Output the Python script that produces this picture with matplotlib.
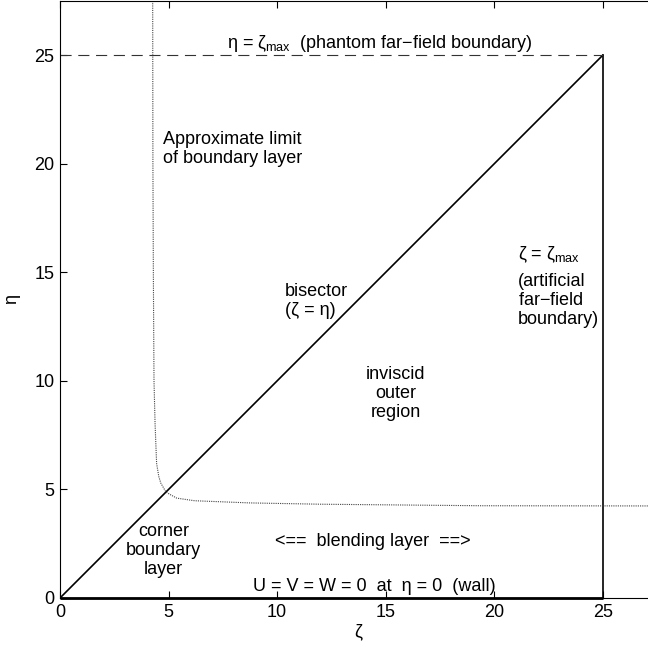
import numpy as np
import matplotlib
matplotlib.use("Agg")
import matplotlib.pyplot as plt

plt.rcParams["font.family"] = ["Liberation Sans", "DejaVu Sans"]
plt.rcParams["mathtext.fontset"] = "custom"
plt.rcParams["mathtext.rm"] = "Liberation Sans"
plt.rcParams["mathtext.it"] = "Liberation Sans"
plt.rcParams["mathtext.bf"] = "Liberation Sans:bold"

# ---- Data ----------------------------------------------------------------
zeta_max = 25.0
bisector_zeta = [0.0, 25.0]
bisector_eta = [0.0, 25.0]

# approximate edge of the boundary layer (read off the computed solution)
bl_zeta = [4.27, 4.28, 4.30, 4.33, 4.38, 4.45, 4.55, 4.64, 4.88, 5.10,
           5.38, 6.20, 8.75, 12.0, 19.4, 27.5]
bl_eta = [27.5, 20.0, 15.0, 10.0, 8.0, 6.2, 5.6, 5.3, 4.88, 4.75,
          4.60, 4.48, 4.38, 4.32, 4.25, 4.24]

ticks = [0, 5, 10, 15, 20, 25]

# ---- Figure setup --------------------------------------------------------
fig = plt.figure(figsize=(6.48, 6.51), dpi=100)
ax = fig.add_axes([60 / 648, 53 / 651, 597 / 648, 597 / 651])

ax.plot(bisector_zeta, bisector_eta, color="black", lw=1.2)
ax.plot([zeta_max, zeta_max], [0, zeta_max], color="black", lw=1.2)
ax.plot([0, zeta_max], [zeta_max, zeta_max], color="#333333", lw=0.8,
        dashes=(10, 6))
ax.plot([0, zeta_max], [0, 0], color="black", lw=2.0, clip_on=False,
        solid_capstyle="butt")
ax.plot(bl_zeta, bl_eta, color="#444444", lw=0.8, linestyle=(0, (1, 1)))

# ---- Annotations ---------------------------------------------------------
fs = 13
ax.text(7.7, 25.35, r"$\eta$ = $\zeta_{\rm max}$  (phantom far$-$field boundary)",
        fontsize=fs, ha="left", va="baseline")
ax.text(4.75, 20.7, "Approximate limit\nof boundary layer",
        fontsize=fs, ha="left", va="center", linespacing=1.15)
ax.text(10.37, 13.7, "bisector\n(ζ = η)",
        fontsize=fs, ha="left", va="center", linespacing=1.15)
ax.text(15.45, 9.4, "inviscid\nouter\nregion",
        fontsize=fs, ha="center", va="center", linespacing=1.15)
ax.text(21.1, 15.6, r"$\zeta$ = $\zeta_{\rm max}$",
        fontsize=fs, ha="left", va="baseline")
ax.text(21.1, 13.72, "(artificial\nfar$-$field\nboundary)",
        fontsize=fs, ha="left", va="center", linespacing=1.15)
ax.text(4.77, 2.17, "corner\nboundary\nlayer",
        fontsize=fs, ha="center", va="center", linespacing=1.15)
ax.text(14.4, 2.58, "<==  blending layer  ==>",
        fontsize=fs, ha="center", va="center")
ax.text(14.5, 0.3, "U = V = W = 0  at  η = 0  (wall)",
        fontsize=fs, ha="center", va="baseline")

# ---- Axes ----------------------------------------------------------------
ax.set_xlim(0, 27.5)
ax.set_ylim(0, 27.5)
ax.set_xticks(ticks)
ax.set_yticks(ticks)
ax.tick_params(direction="in", length=5, width=0.8, labelsize=fs,
               top=True, right=True, pad=4)
for spine in ax.spines.values():
    spine.set_linewidth(0.8)
ax.set_xlabel("ζ", fontsize=fs, labelpad=2)
ax.set_ylabel("η", fontsize=fs, labelpad=10)

fig.savefig("out.png", dpi=100)
